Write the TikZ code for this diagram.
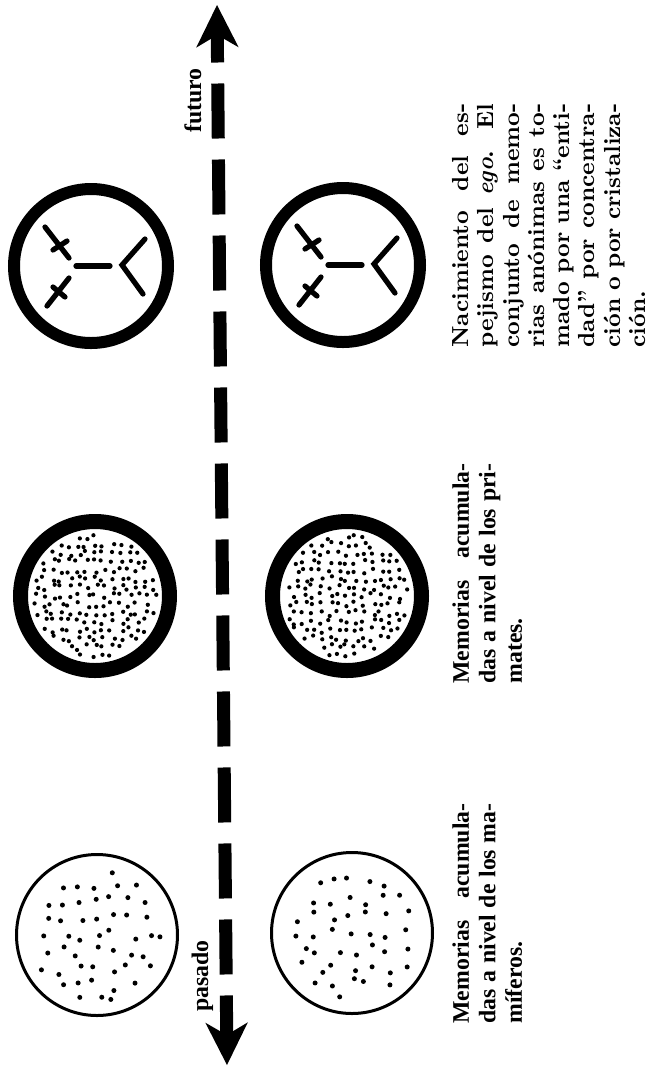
\documentclass[tikz,border=0pt]{standalone}
\usepackage{fontspec}
\newfontfamily\tiempos{Liberation Serif}
\usetikzlibrary{arrows.meta, calc}

% una linea justificada de ancho fijo
\newcommand{\renglon}[1]{\leavevmode\hbox to \hsize{#1}}

% puntos al azar sobre una rejilla: centro, paso, radio, n, holgura, tamano
\newcommand{\sembrar}[6]{%
  \foreach \i in {-#4,...,#4}{%
    \foreach \j in {-#4,...,#4}{%
      \pgfmathsetmacro{\ptx}{\i*#2+#5*rand}%
      \pgfmathsetmacro{\pty}{\j*#2+#5*rand}%
      \pgfmathtruncatemacro{\dentro}{(\ptx*\ptx+\pty*\pty)<(#3*#3)}%
      \ifnum\dentro=1 \fill ($(#1)+(\ptx,\pty)$) circle[radius=#6];\fi
    }%
  }%
}

\tikzset{
  punta/.tip={Stealth[length=17pt, width=17pt, inset=5pt, line width=0pt]},
  flecha/.style={line width=5.2pt, dash pattern=on 22pt off 8.4pt,
                 dash phase=11pt, punta-punta},
  anillo/.style={circle, draw, inner sep=0pt},
  egoanillo/.style={anillo, line width=4.8pt, minimum size=61.6pt},
  primanillo/.style={anillo, line width=6pt, minimum size=59.6pt},
  mamanillo/.style={anillo, line width=1.2pt, minimum size=64.4pt},
  trazo/.style={line width=2.1pt, line cap=round},
  rotulo/.style={rotate=90, anchor=base west, inner sep=0pt,
                 font=\tiempos\bfseries\fontsize{9.5}{10.4}\selectfont},
  nota/.style={rotate=90, anchor=north west, inner sep=0pt, align=justify},
  yo/.pic={
    \draw[trazo] (-46,-39) -- (-22,-8);
    \draw[trazo] (-38,-16) -- (-24,-25);
    \draw[trazo] (-44,40) -- (-22,12);
    \draw[trazo] (-38,21) -- (-26,31);
    \draw[trazo] (-15,0) -- (19,0);
    \draw[trazo] (54,-27) -- (31,-1) -- (52,28);
  }
}

\begin{document}
\begin{tikzpicture}[x=0.4pt, y=-0.4pt]
  \useasboundingbox (0,0) rectangle (667,1068);

  % eje del tiempo
  \coordinate (fut) at (217,5);
  \coordinate (pas) at (227,1065);
  \draw[flecha] (fut) -- (pas);
  \node[rotulo] (lblfuturo) at (201,133) {futuro};
  \node[rotulo] (lblpasado) at (208,1012) {pasado};

  % nacimiento del ego
  \node[egoanillo] (egoA) at (91,266) {};
  \node[egoanillo] (egoB) at (343,265) {};
  \pic at (egoA) {yo};
  \pic at (egoB) {yo};

  % primates
  \pgfmathsetseed{11}
  \node[primanillo] (primA) at (95,596) {};
  \node[primanillo] (primB) at (347,596) {};
  \sembrar{primA}{8.5}{62}{8}{3}{0.85pt}
  \sembrar{primB}{8.5}{62}{8}{3}{0.85pt}

  % mamiferos
  \node[mamanillo] (mamA) at (97,935) {};
  \node[mamanillo] (mamB) at (352,933) {};
  \sembrar{mamA}{17}{66}{4}{6}{1pt}
  \sembrar{mamB}{17}{66}{4}{6}{1pt}

  % textos
  \node[nota, text width=97.6pt, font=\bfseries\fontsize{9.3}{10.1}\selectfont]
    (txtego) at (452,348) {\renglon{Nacimiento del es-}\\
      \renglon{pejismo del \textit{ego}. El}\\
      \renglon{conjunto de memo-}\\
      \renglon{rias anónimas es to-}\\
      \renglon{mado por una ``enti-}\\
      \renglon{dad'' por concentra-}\\
      \renglon{ción o por cristaliza-}\\
      ción.};
  \node[nota, text width=88pt, font=\tiempos\bfseries\fontsize{9.5}{10.6}\selectfont]
    (txtprim) at (452,684) {\renglon{Memorias acumula-}\\
      \renglon{das a nivel de los pri-}\\
      mates.};
  \node[nota, text width=88pt, font=\tiempos\bfseries\fontsize{9.5}{10.6}\selectfont]
    (txtmam) at (452,1024) {\renglon{Memorias acumula-}\\
      \renglon{das a nivel de los ma-}\\
      míferos.};
\end{tikzpicture}
\end{document}
